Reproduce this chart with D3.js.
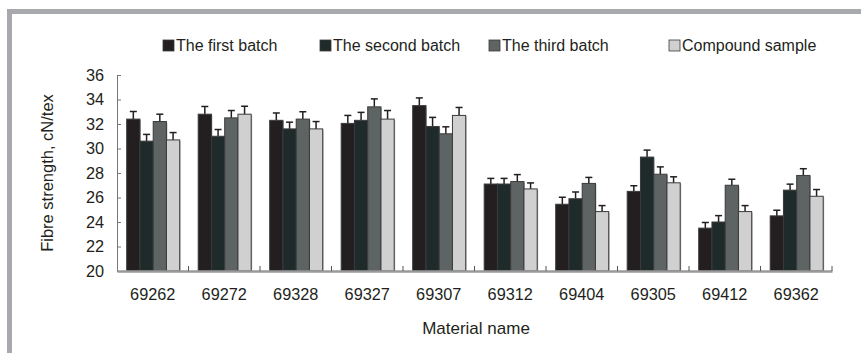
<!DOCTYPE html>
<html><head><meta charset="utf-8">
<script src="https://cdn.jsdelivr.net/npm/d3@7"></script>
<style>
body{margin:0;background:#fff;}
svg{display:block;font-family:"Liberation Sans",Arial,sans-serif;}
</style></head>
<body><svg id="c" width="861" height="353"></svg>
<script>
const categories = ["69262","69272","69328","69327","69307","69312","69404","69305","69412","69362"];
const seriesNames = ["The first batch","The second batch","The third batch","Compound sample"];
const firstBatch    = [32.4, 32.8, 32.3, 32.05, 33.5, 27.1, 25.45, 26.5, 23.5, 24.5];
const secondBatch   = [30.6, 31.0, 31.6, 32.3, 31.8, 27.1, 25.9, 29.3, 24.0, 26.6];
const thirdBatch    = [32.2, 32.5, 32.4, 33.4, 31.2, 27.3, 27.15, 27.9, 27.0, 27.8];
const compound      = [30.7, 32.8, 31.6, 32.4, 32.7, 26.7, 24.85, 27.2, 24.85, 26.1];
const firstErr      = [0.62, 0.63, 0.6, 0.65, 0.63, 0.46, 0.57, 0.46, 0.46, 0.46];
const secondErr     = [0.55, 0.55, 0.55, 0.65, 0.74, 0.46, 0.55, 0.57, 0.52, 0.49];
const thirdErr      = [0.6, 0.6, 0.6, 0.65, 0.57, 0.57, 0.49, 0.6, 0.49, 0.55];
const compoundErr   = [0.6, 0.65, 0.6, 0.7, 0.65, 0.49, 0.49, 0.49, 0.49, 0.55];
const yTicks = [20,22,24,26,28,30,32,34,36];
const colors = ["#231f20","#1f2a2a","#5e6463","#d0d0d0"];

const values = [firstBatch, secondBatch, thirdBatch, compound];
const errs = [firstErr, secondErr, thirdErr, compoundErr];

const svg = d3.select("#c");
// frame
svg.append("rect").attr("x",9.5).attr("y",11.5).attr("width",870).attr("height",360)
  .attr("fill","none").attr("stroke","#a7a9ac").attr("stroke-width",5);

const pL=117, pR=832, pT=75, pB=271;
const x = d3.scaleBand().domain(categories).range([pL,pR]).padding(0);
const xi = d3.scaleBand().domain(d3.range(4)).range([9.7, x.bandwidth()-8.8]).padding(0);
const y = d3.scaleLinear().domain([20,36]).range([pB,pT]);

// y axis
const ya = svg.append("g").attr("transform",`translate(${pL},0)`)
  .call(d3.axisLeft(y).tickValues(yTicks).tickSize(-4).tickPadding(13));
ya.select(".domain").attr("stroke","#777").attr("stroke-width",1);
ya.selectAll(".tick line").attr("stroke","#777");
ya.selectAll("text").attr("font-size",16.3).attr("fill","#231f20").attr("font-family","Liberation Sans, Arial, sans-serif");

// bars
const groups = svg.append("g").selectAll("g").data(categories).join("g")
  .attr("transform",d=>`translate(${x(d)},0)`);
for(let s=0;s<4;s++){
  groups.append("line")
    .attr("x1",(d,i)=>xi(s)+xi.bandwidth()/2).attr("x2",(d,i)=>xi(s)+xi.bandwidth()/2)
    .attr("y1",(d,i)=>y(values[s][i])).attr("y2",(d,i)=>y(values[s][i]+errs[s][i]))
    .attr("stroke","#231f20").attr("stroke-width",1.5);
  groups.append("line")
    .attr("x1",(d,i)=>xi(s)+xi.bandwidth()/2-3.5).attr("x2",(d,i)=>xi(s)+xi.bandwidth()/2+3.5)
    .attr("y1",(d,i)=>y(values[s][i]+errs[s][i])).attr("y2",(d,i)=>y(values[s][i]+errs[s][i]))
    .attr("stroke","#231f20").attr("stroke-width",1.5);
  groups.append("rect")
    .attr("x",xi(s)+1).attr("y",(d,i)=>y(values[s][i])+1)
    .attr("width",xi.bandwidth()).attr("height",(d,i)=>pB-y(values[s][i])-1)
    .attr("fill","#bbb");
  groups.append("rect")
    .attr("x",xi(s)).attr("y",(d,i)=>y(values[s][i]))
    .attr("width",xi.bandwidth()).attr("height",(d,i)=>pB-y(values[s][i]))
    .attr("fill",colors[s]).attr("stroke","#3a3a3a").attr("stroke-width",1);
}

// x axis
const xa = svg.append("g").attr("transform",`translate(0,${pB})`)
  .call(d3.axisBottom(x).tickSize(0).tickPadding(17));
xa.select(".domain").attr("stroke","#999").attr("stroke-width",2.5);
xa.selectAll("text").attr("font-size",16.3).attr("fill","#231f20").attr("font-family","Liberation Sans, Arial, sans-serif");
svg.append("g").selectAll("line").data(categories.slice(1).concat(["end"])).join("line")
  .attr("x1",d=>d==="end"?pR:x(d)).attr("x2",d=>d==="end"?pR:x(d))
  .attr("y1",pB).attr("y2",pB-5).attr("stroke","#555").attr("stroke-width",1);

// axis titles
svg.append("text").attr("transform",`translate(53,${(pT+pB)/2}) rotate(-90)`)
  .attr("text-anchor","middle").attr("font-size",16.5).attr("fill","#231f20")
  .text("Fibre strength, cN/tex");
svg.append("text").attr("x",476).attr("y",334).attr("text-anchor","middle")
  .attr("font-size",17).attr("fill","#231f20").text("Material name");

// legend
const legX = [163, 320, 489, 669];
const leg = svg.append("g").selectAll("g").data(seriesNames).join("g")
  .attr("transform",(d,i)=>`translate(${legX[i]},40)`);
leg.append("rect").attr("width",11).attr("height",11)
  .attr("fill",(d,i)=>colors[i]).attr("stroke","#3a3a3a").attr("stroke-width",0.8);
leg.append("text").attr("x",13).attr("y",11).attr("font-size",16).attr("fill","#231f20").text(d=>d);
</script></body></html>
